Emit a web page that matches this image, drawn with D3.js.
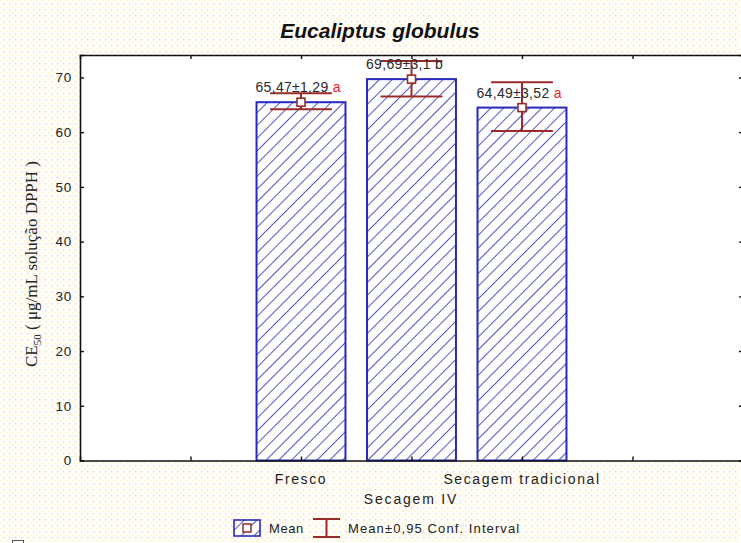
<!DOCTYPE html>
<html><head><meta charset="utf-8">
<script src="https://cdn.jsdelivr.net/npm/d3@7"></script>
<style>html,body{margin:0;padding:0;background:#fff;}svg{display:block;}</style>
</head><body>
<script>
const title = "Eucaliptus globulus";
const categories = ["Fresco", "Secagem IV", "Secagem tradicional"];
const xTickLabels = ["Fresco", "", "Secagem tradicional"];
const means = [65.47, 69.69, 64.49];
const ciLow = [64.2, 66.5, 60.2];
const ciHigh = [67.1, 73.0, 69.1];
const valueLabels = ["65,47±1,29", "69,69±3,1", "64,49±3,52"];
const letters = ["a", "b", "a"];
const yTicks = [0, 10, 20, 30, 40, 50, 60, 70];
const xAxisTitle = "Secagem IV";
const legendLabels = ["Mean", "Mean±0,95 Conf. Interval"];

const W = 741, H = 543;
const svg = d3.select("body").append("svg").attr("width", W).attr("height", H);
const defs = svg.append("defs");
const bgp = defs.append("pattern").attr("id","bgdots").attr("patternUnits","userSpaceOnUse").attr("width",6).attr("height",6);
bgp.append("rect").attr("width",6).attr("height",6).attr("fill","#fffef8");
bgp.append("rect").attr("x",0).attr("y",0).attr("width",1.5).attr("height",1.5).attr("fill","#fcf3c8");
bgp.append("rect").attr("x",3).attr("y",3).attr("width",1.5).attr("height",1.5).attr("fill","#f6d3da");
const hp = defs.append("pattern").attr("id","hatch").attr("patternUnits","userSpaceOnUse")
  .attr("width",9).attr("height",9).attr("patternTransform","rotate(45)");
hp.append("rect").attr("width",9).attr("height",9).attr("fill","#fff");
hp.append("line").attr("x1",0).attr("y1",0).attr("x2",0).attr("y2",9).attr("stroke","#2b2bb5").attr("stroke-width",1.6);

svg.append("rect").attr("width",W).attr("height",H).attr("fill","url(#bgdots)");

const x = d3.scaleLinear().domain([0, 6]).range([80, 743]);
const y = d3.scaleLinear().domain([0, 74.1]).range([460.5, 55]);
const pos = d => 2 + categories.indexOf(d);
const bw = x(0.805) - x(0);

svg.append("rect").attr("x",80).attr("y",55).attr("width",663).attr("height",405.5).attr("fill","#fff");

// title
svg.append("text").attr("x",380).attr("y",38).attr("text-anchor","middle")
  .attr("font-family","Liberation Sans, Arial, sans-serif").attr("font-size",21)
  .attr("font-weight","bold").attr("font-style","italic").attr("fill","#111").text(title);

// bars
const g = svg.append("g");
g.selectAll("rect.bar").data(categories).join("rect").attr("class","bar")
  .attr("x", d => x(pos(d)) - bw/2).attr("width", bw)
  .attr("y", (d,i) => y(means[i])).attr("height", (d,i) => y(0) - y(means[i]))
  .attr("fill","url(#hatch)").attr("stroke","#2828c0").attr("stroke-width",2);

// axes
const axFont = "Liberation Sans, Arial, sans-serif";
svg.append("g").attr("transform","translate(80,0)")
  .call(d3.axisRight(y).tickValues(yTicks).tickSize(4).tickFormat(""));
const leftLabels = svg.append("g").attr("transform","translate(72,0)")
  .call(d3.axisLeft(y).tickValues(yTicks).tickSize(0).tickPadding(0));
leftLabels.select(".domain").remove();
leftLabels.selectAll("text").attr("font-family",axFont).attr("font-size",13.5)
  .attr("letter-spacing",0.8).attr("fill","#222");
svg.append("g").attr("transform","translate(743,0)")
  .call(d3.axisLeft(y).tickValues(yTicks).tickSize(4).tickFormat(""));
svg.append("g").attr("transform","translate(0,55)")
  .call(d3.axisBottom(x).tickValues([1,2,3,4,5]).tickSize(4).tickFormat(""));
svg.append("g").attr("transform","translate(0,460.5)")
  .call(d3.axisTop(x).tickValues([1,2,3,4,5]).tickSize(4).tickFormat(""));
svg.selectAll(".domain").attr("stroke","#111").attr("stroke-width",1.6);
svg.selectAll(".tick line").attr("stroke","#111").attr("stroke-width",1.4);

// x tick labels
svg.append("g").selectAll("text").data(categories).join("text")
  .attr("x", d => x(pos(d))).attr("y", 484).attr("text-anchor","middle")
  .attr("font-family",axFont).attr("font-size",14).attr("letter-spacing",1.6).attr("fill","#222")
  .text((d,i) => xTickLabels[i]);
svg.append("text").attr("x",411).attr("y",504).attr("text-anchor","middle")
  .attr("font-family",axFont).attr("font-size",14).attr("letter-spacing",1.8).attr("fill","#222").text(xAxisTitle);

// y axis title
const yt = svg.append("text").attr("transform","translate(37,264) rotate(-90)").attr("text-anchor","middle")
  .attr("font-family","Liberation Serif, Times New Roman, serif").attr("font-size",17).attr("fill","#222");
yt.append("tspan").text("CE");
yt.append("tspan").attr("font-size",11).attr("dy",4).text("50");
yt.append("tspan").attr("dy",-4).text(" ( μg/mL solução DPPH )");

// error bars
const red = "#9b2a2a";
const capW = x(0.56) - x(0);
const eb = svg.append("g").attr("stroke",red).attr("stroke-width",2);
categories.forEach((c,i) => {
  const cx = x(pos(c));
  eb.append("line").attr("x1",cx).attr("x2",cx).attr("y1",y(ciLow[i])).attr("y2",y(ciHigh[i]));
  eb.append("line").attr("x1",cx-capW/2).attr("x2",cx+capW/2).attr("y1",y(ciLow[i])).attr("y2",y(ciLow[i]));
  eb.append("line").attr("x1",cx-capW/2).attr("x2",cx+capW/2).attr("y1",y(ciHigh[i])).attr("y2",y(ciHigh[i]));
});
svg.append("g").selectAll("rect").data(categories).join("rect")
  .attr("x", d => x(pos(d)) - 4).attr("y", (d,i) => y(means[i]) - 4)
  .attr("width",8).attr("height",8).attr("fill","#fff").attr("stroke",red).attr("stroke-width",1.6);

// value labels
categories.forEach((c,i) => {
  const t = svg.append("text").attr("x", x(pos(c)) - bw/2 - 1).attr("y", y(means[i]) - 10)
    .attr("font-family",axFont).attr("font-size",14).attr("letter-spacing",0.3).attr("fill","#2a2a2a");
  t.append("tspan").text(valueLabels[i] + " ");
  t.append("tspan").attr("fill", letters[i] === "b" ? "#2a2a2a" : "#e8202a").text(letters[i]);
});

// legend
const lg = svg.append("g");
lg.append("rect").attr("x",234).attr("y",520).attr("width",26).attr("height",16)
  .attr("fill","url(#hatch)").attr("stroke","#2828c0").attr("stroke-width",1.6);
lg.append("rect").attr("x",243).attr("y",524).attr("width",8).attr("height",8)
  .attr("fill","#fff").attr("stroke",red).attr("stroke-width",1.5);
lg.append("text").attr("x",269).attr("y",533).attr("font-family",axFont).attr("font-size",13).attr("letter-spacing",0.6).attr("fill","#222").text(legendLabels[0]);
const lge = lg.append("g").attr("stroke",red).attr("stroke-width",2);
lge.append("line").attr("x1",313).attr("x2",340).attr("y1",519).attr("y2",519);
lge.append("line").attr("x1",313).attr("x2",340).attr("y1",537).attr("y2",537);
lge.append("line").attr("x1",326.5).attr("x2",326.5).attr("y1",519).attr("y2",537);
lg.append("text").attr("x",348).attr("y",533).attr("font-family",axFont).attr("font-size",13).attr("letter-spacing",1.1).attr("fill","#222").text(legendLabels[1]);

// small corner mark bottom-left
svg.append("rect").attr("x",12.5).attr("y",540.5).attr("width",11).attr("height",6).attr("fill","#fff").attr("stroke","#555").attr("stroke-width",1);
</script>
</body></html>
